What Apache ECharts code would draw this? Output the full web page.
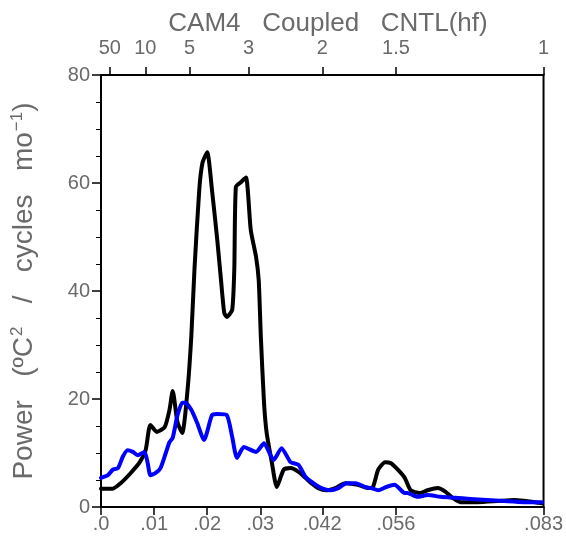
<!DOCTYPE html>
<html>
<head>
<meta charset="utf-8">
<script src="https://cdn.jsdelivr.net/npm/echarts@6/dist/echarts.min.js"></script>
<style>html,body{margin:0;padding:0;background:#fff}#c{width:566px;height:539px}</style>
</head>
<body>
<div id="c"></div>
<script>
// Frequency (cycles/mo) and power values
const blackFreq = [0, .0022, .0037, .0056, .0073, .0084, .0093, .0105, .0120, .0129, .0135, .0144, .0153, .0163, .0170, .0176, .0185, .0191, .0200, .0209, .0219, .0226, .0232, .0237, .0247, .0251, .0254, .0264, .0273, .0282, .0292, .0297, .0301, .0307, .0312, .0322, .0331, .0344, .0357, .0372, .0385, .0396, .0409, .0424, .0441, .0460, .0484, .0503, .0512, .0522, .0535, .0546, .0559, .0572, .0583, .0600, .0615, .0634, .0649, .0662, .0677, .0709, .0746, .0778, .0830];
const blackPower = [3.4, 3.4, 4.4, 6.3, 8.3, 10.5, 15.2, 13.9, 14.8, 18, 21.5, 15.7, 13.7, 21.7, 31.5, 44, 58.7, 63.7, 65.7, 58.7, 49.4, 42, 36, 35.2, 36.5, 44, 59.3, 60.2, 61, 51.3, 46.3, 42, 31.5, 19.3, 13.7, 8.1, 3.7, 6.9, 7.2, 6.5, 5.4, 4.4, 3.5, 3.1, 3.5, 4.4, 4.1, 3.5, 3.7, 6.9, 8.3, 8.1, 6.9, 5.4, 3.1, 2.6, 3.1, 3.5, 2.8, 1.7, 0.9, 0.9, 1.1, 1.3, 0.7];
const blueFreq = [0, .0013, .0022, .0032, .0041, .0050, .0060, .0069, .0082, .0088, .0093, .0103, .0112, .0122, .0129, .0135, .0144, .0153, .0159, .0170, .0181, .0194, .0209, .0219, .0237, .0247, .0256, .0269, .0292, .0307, .0325, .0340, .0357, .0372, .0385, .0400, .0415, .0432, .0447, .0462, .0480, .0497, .0509, .0522, .0537, .0553, .0572, .0577, .0596, .0615, .0639, .0666, .0695, .0727, .0759, .0796, .0830];
const bluePower = [5.4, 5.9, 6.9, 7.2, 9.3, 10.5, 10.2, 9.6, 10.2, 8.1, 5.9, 6.3, 7.2, 10, 12, 12.8, 17, 19.3, 19.3, 18, 15.6, 12.4, 17, 17.2, 17, 13, 9.1, 11.1, 10.2, 11.8, 8.7, 10.9, 8.3, 7.8, 5.6, 4.4, 3.5, 3.1, 3.5, 4.4, 4.4, 3.7, 3.5, 3.1, 3.7, 4.1, 2.6, 2.6, 1.9, 2.2, 1.9, 1.7, 1.5, 1.3, 1.1, 0.9, 0.9];
// Bottom axis ticks (frequency) and labels
const bottomTicks = [0, 0.01, 0.02, 0.03, 1/24, 1/18, 1/12];
const bottomLabels = ['.0', '.01', '.02', '.03', '.042', '.056', '.083'];
// Top axis: period in years
const topPeriods = [50, 10, 5, 3, 2, 1.5, 1];
const topTicks = topPeriods.map(p => 1 / (12 * p));

const FONT = 'Liberation Sans';
const TXT = '#6a6a6a';
const idx = (arr, v) => { let b = 0; arr.forEach((a, i) => { if (Math.abs(a - v) < Math.abs(arr[b] - v)) b = i; }); return b; };

const chart = echarts.init(document.getElementById('c'), null, {renderer: 'canvas'});
chart.setOption({
  animation: false,
  backgroundColor: '#fff',
  title: {
    text: 'CAM4   Coupled   CNTL(hf)',
    left: 323, textAlign: 'center', top: 6,
    textStyle: {fontFamily: FONT, fontWeight: 'normal', fontSize: 26, color: TXT}
  },
  grid: {left: 101, right: 21, top: 75, bottom: 32, show: true, borderColor: '#000', borderWidth: 2, containLabel: false},
  xAxis: [{
    type: 'value', min: 0, max: 1/12, position: 'bottom',
    axisLine: {show: true, onZero: false, lineStyle: {color: '#000', width: 2}},
    axisTick: {show: true, length: 8, customValues: bottomTicks, lineStyle: {color: '#000', width: 1.5}},
    axisLabel: {customValues: bottomTicks, margin: 7, fontFamily: FONT, fontSize: 20, color: TXT,
      formatter: v => bottomLabels[idx(bottomTicks, v)]},
    splitLine: {show: false}
  }, {
    type: 'value', min: 0, max: 1/12, position: 'top',
    axisLine: {show: true, onZero: false, lineStyle: {color: '#000', width: 2}},
    axisTick: {show: true, length: 8, customValues: topTicks, lineStyle: {color: '#000', width: 1.5}},
    axisLabel: {customValues: topTicks, margin: 17, fontFamily: FONT, fontSize: 20, color: TXT,
      formatter: v => String(topPeriods[idx(topTicks, v)])},
    splitLine: {show: false}
  }],
  yAxis: {
    type: 'value', min: 0, max: 80, interval: 20,
    name: '{n|Power   (ºC}{s|2}{n|   /   cycles   mo}{s|−1}{n|)}',
    nameLocation: 'middle', nameGap: 62, nameRotate: 90,
    nameTextStyle: {rich: {
      n: {fontFamily: FONT, fontSize: 28, color: TXT},
      s: {fontFamily: FONT, fontSize: 17, color: TXT, verticalAlign: 'top', padding: [0, 0, 13, 1]}
    }},
    axisLine: {show: true, lineStyle: {color: '#000', width: 2}},
    axisTick: {show: true, length: 9, lineStyle: {color: '#000', width: 1.5}},
    minorTick: {show: true, splitNumber: 4, length: 5, lineStyle: {color: '#000', width: 1}},
    axisLabel: {margin: 11, fontFamily: FONT, fontSize: 20, color: TXT},
    splitLine: {show: false}
  },
  series: [{
    type: 'line', xAxisIndex: 0, showSymbol: false, smooth: 0.2,
    data: blackFreq.map((f, i) => [f, blackPower[i]]),
    lineStyle: {color: '#000', width: 4, join: 'round', cap: 'round'}
  }, {
    type: 'line', xAxisIndex: 0, showSymbol: false, smooth: 0.2,
    data: blueFreq.map((f, i) => [f, bluePower[i]]),
    lineStyle: {color: '#0000ff', width: 4, join: 'round', cap: 'round'}
  }]
});
</script>
</body>
</html>
